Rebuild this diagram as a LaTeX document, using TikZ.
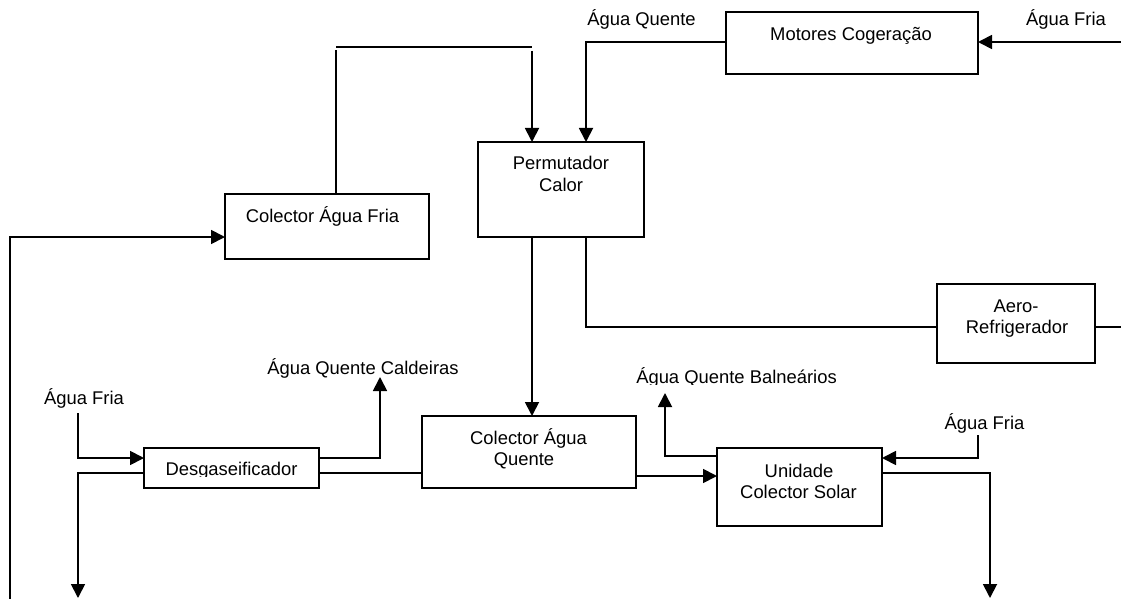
\documentclass[tikz,border=0pt]{standalone}
\usepackage{fontspec}
\setmainfont{Liberation Sans}
\usetikzlibrary{arrows.meta}
\begin{document}
\begin{tikzpicture}[x=1pt,y=-1pt,
  box/.style={draw, line width=1.8pt, inner sep=0pt, outer sep=0pt, anchor=north west},
  txt/.style={font=\fontsize{18.4}{21}\selectfont, inner sep=0pt, anchor=base},
  wire/.style={line width=1.8pt},
  arr/.style={wire, -{Triangle[length=14pt,width=14pt]}},
]
\useasboundingbox (0,0) rectangle (1121,599);

% boxes
\node[box, minimum width=252pt, minimum height=62pt] (mot)  at (726,12)  {};
\node[box, minimum width=166pt, minimum height=95pt] (perm) at (478,142) {};
\node[box, minimum width=204pt, minimum height=65pt] (caf)  at (225,194) {};
\node[box, minimum width=158pt, minimum height=79pt] (aero) at (937,284) {};
\node[box, minimum width=214pt, minimum height=72pt] (caq)  at (422,416) {};
\node[box, minimum width=175pt, minimum height=40pt] (desg) at (144,448) {};
\node[box, minimum width=165pt, minimum height=78pt] (uni)  at (717,448) {};

% box texts
\node[txt] (motT)   at (851,40.5) {Motores Cogeração};
\node[txt] (permT1) at (561,169)  {Permutador};
\node[txt] (permT2) at (561,191)  {Calor};
\node[txt] (cafT)   at (322.5,222) {Colector Água Fria};
\node[txt] (aeroT1) at (1016,312) {Aero-};
\node[txt] (aeroT2) at (1017,333) {Refrigerador};
\node[txt] (caqT1)  at (528.5,444) {Colector Água};
\node[txt] (caqT2)  at (524,465)  {Quente};
\begin{scope}
  \clip (145,449) rectangle (318,476.5);
  \node[txt] (desgT) at (231.5,475) {Desgaseificador};
\end{scope}
\node[txt] (uniT1)  at (799,477)  {Unidade};
\node[txt] (uniT2)  at (798.5,498) {Colector Solar};

% free labels
\node[txt] (lAQ)  at (641.5,26) {Água Quente};
\node[txt] (lAF1) at (1066,26)  {Água Fria};
\node[txt] (lAQC) at (363,374)  {Água Quente Caldeiras};
\node[txt] (lAF2) at (84,404)   {Água Fria};
\begin{scope}
  \clip (600,350) rectangle (880,384.5);
  \node[txt] (lAQB) at (736.5,383) {Água Quente Balneários};
\end{scope}
\node[txt] (lAF3) at (984.5,429) {Água Fria};

% free ends
\coordinate (rin)  at (1121,42);
\coordinate (tl)   at (336,47);
\coordinate (tr)   at (532,47);
\coordinate (tlb)  at (336,50);
\coordinate (trb)  at (532,51);
\coordinate (rout) at (1121,327);
\coordinate (lb)   at (10,599);
\coordinate (lf)   at (78,413);
\coordinate (lo)   at (78,598);
\coordinate (cq)   at (380,377);
\coordinate (bq)   at (665,393);
\coordinate (rf)   at (978,435);
\coordinate (ro)   at (990,598);

% connectors
\draw[arr] (rin) -- (rin -| mot.east);
\draw[arr] (mot.west |- rin) -| (perm.north -| 586,0);
\draw[wire] (caf.north -| tlb) -- (tlb);
\draw[wire] (tl) -- (tr);
\draw[arr] (trb) -- (perm.north -| trb);
\draw[arr] (perm.south -| 532,0) -- (caq.north -| 532,0);
\draw[wire] (perm.south -| 586,0) |- (aero.west |- rout);
\draw[wire] (aero.east |- rout) -- (rout);
\draw[arr] (lb) |- (caf.west |- 0,237);
\draw[arr] (lf) |- (desg.west |- 0,458);
\draw[arr] (desg.west |- 0,473) -| (lo);
\draw[arr] (desg.east |- 0,458) -| (cq);
\draw[wire] (desg.east |- 0,473) -- (caq.west |- 0,473);
\draw[arr] (caq.east |- 0,476) -- (uni.west |- 0,476);
\draw[arr] (uni.west |- 0,456) -| (bq);
\draw[arr] (rf) |- (uni.east |- 0,458);
\draw[arr] (uni.east |- 0,473) -| (ro);
\end{tikzpicture}
\end{document}
